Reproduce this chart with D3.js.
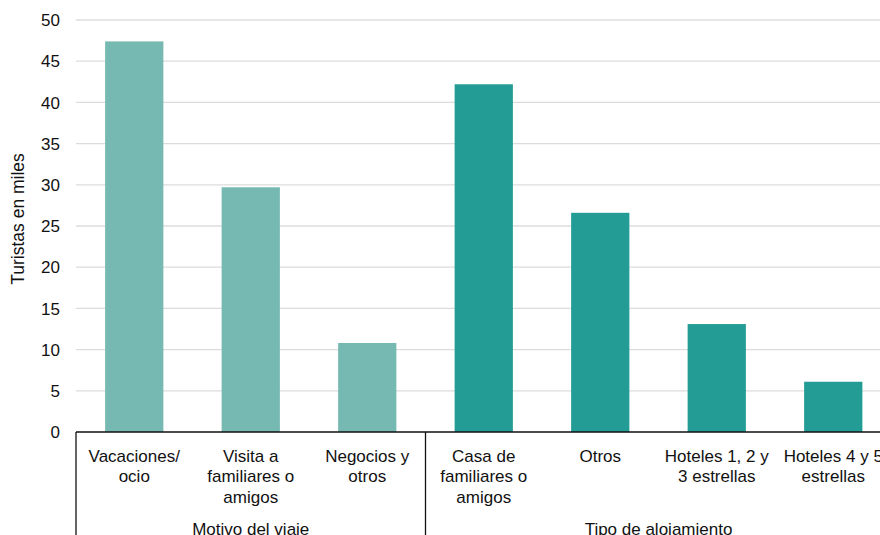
<!DOCTYPE html>
<html><head><meta charset="utf-8">
<script src="https://cdn.jsdelivr.net/npm/d3@7"></script>
<style>body{margin:0;background:#fff;} svg{display:block;} text{font-family:"Liberation Sans",Arial,Helvetica,sans-serif;fill:#111;}</style>
</head><body>
<svg id="c" width="880" height="535"></svg>
<script>
const categories = ["Vacaciones/\nocio","Visita a\nfamiliares o\namigos","Negocios y\notros","Casa de\nfamiliares o\namigos","Otros","Hoteles 1, 2 y\n3 estrellas","Hoteles 4 y 5\nestrellas"];
const values = [47.4, 29.7, 10.8, 42.2, 26.6, 13.1, 6.1];
const groups = ["Motivo del viaje","Motivo del viaje","Motivo del viaje","Tipo de alojamiento","Tipo de alojamiento","Tipo de alojamiento","Tipo de alojamiento"];
const groupColors = {"Motivo del viaje":"#76b9b2","Tipo de alojamiento":"#239c96"};
const yTicks = [0,5,10,15,20,25,30,35,40,45,50];
const yTitle = "Turistas en miles";

(function(){
const svg = d3.select("#c");
const mLeft = 76, mTop = 20, mBottom = 432, bandW = 116.5;
const x = d3.scaleBand().domain(d3.range(categories.length)).range([mLeft, mLeft + bandW*categories.length]).paddingInner(0.5).paddingOuter(0.25);
const y = d3.scaleLinear().domain([0,50]).range([mBottom, mTop]);

svg.append("g").selectAll("line").data(yTicks.filter(d=>d>0)).join("line")
  .attr("x1", mLeft).attr("x2", 880).attr("y1", d=>y(d)).attr("y2", d=>y(d))
  .attr("stroke", "#dcdcdc").attr("stroke-width", 1.3);

svg.append("g").selectAll("text").data(yTicks).join("text")
  .attr("x", 60).attr("y", d=>y(d)).attr("dy","0.36em").attr("text-anchor","end")
  .attr("font-size", 17).text(d=>d);

svg.append("text").attr("transform", `translate(24,219) rotate(-90)`)
  .attr("text-anchor","middle").attr("font-size",17.5).text(yTitle);

svg.append("g").selectAll("rect").data(values).join("rect")
  .attr("x", (d,i)=>x(i)).attr("width", x.bandwidth())
  .attr("y", d=>y(d)).attr("height", d=>y(0)-y(d))
  .attr("fill", (d,i)=>groupColors[groups[i]]);

svg.append("line").attr("x1", mLeft).attr("x2", 880).attr("y1", mBottom).attr("y2", mBottom)
  .attr("stroke","#111").attr("stroke-width",1.3);

const step = x.step();
categories.forEach((c,i)=>{
  const cx = x(i) + x.bandwidth()/2;
  const t = svg.append("text").attr("text-anchor","middle").attr("font-size",17);
  c.split("\n").forEach((ln,j)=>{
    t.append("tspan").attr("x", cx).attr("y", 462 + j*20.3).text(ln);
  });
});

const uniq = [...new Set(groups)];
const seps = [mLeft];
uniq.forEach(g=>{
  const idx = groups.map((d,i)=>d===g?i:-1).filter(i=>i>=0);
  const gStart = mLeft + idx[0]*step;
  const gEnd = mLeft + (idx[idx.length-1]+1)*step;
  if (idx[0] > 0) seps.push(gStart);
  svg.append("text").attr("x",(gStart+gEnd)/2).attr("y",535).attr("text-anchor","middle").attr("font-size",17).text(g);
});
svg.append("g").selectAll("line").data(seps).join("line")
  .attr("x1",d=>d).attr("x2",d=>d).attr("y1",mBottom).attr("y2",535)
  .attr("stroke","#111").attr("stroke-width",1.3);
})();
</script>
</body></html>
